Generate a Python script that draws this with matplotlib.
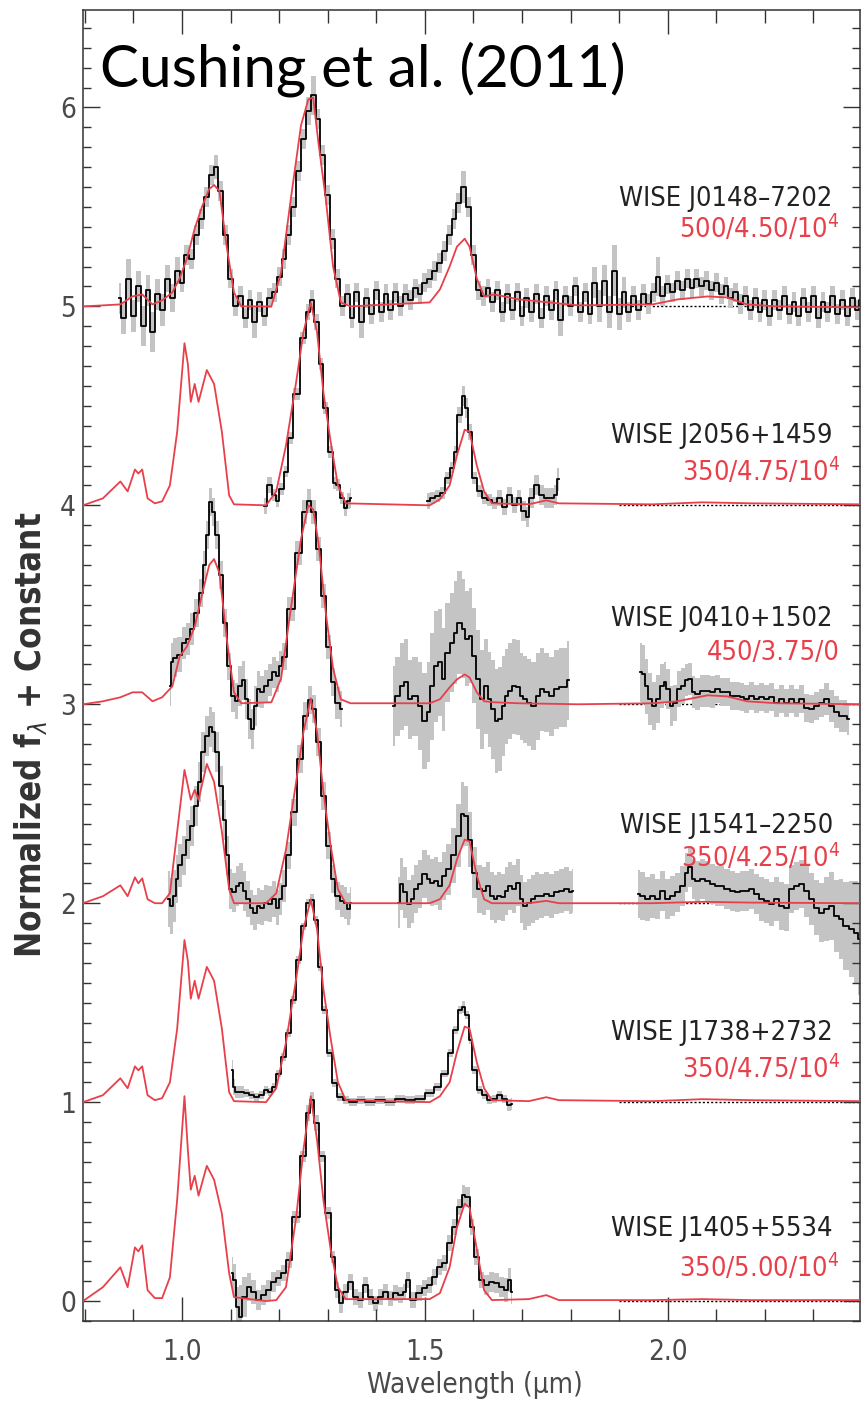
"""
Cushing et al. (2011) -- Y dwarf spectra with best-fit model spectra.
Each object is offset by an integer constant; black = data (grey = 1 sigma),
red = model (Teff / log g / Kzz).
"""
import numpy as np
import matplotlib.pyplot as plt
from matplotlib import font_manager as fm
from matplotlib.ticker import MultipleLocator, FormatStrFormatter


def pick_font():
    """Prefer a narrow Helvetica-like face, fall back to Arial metrics."""
    ttf = fm.fontManager.ttflist
    if any(f.name == "Liberation Sans Narrow" for f in ttf):
        return "Liberation Sans Narrow", "normal", 21
    if any(f.name == "DejaVu Sans" and f.stretch == "condensed" for f in ttf):
        return "DejaVu Sans", "condensed", 19
    return "Liberation Sans", "normal", 19


FONT, STRETCH, FS = pick_font()
plt.rcParams["font.family"] = [FONT, "DejaVu Sans"]
plt.rcParams["font.stretch"] = STRETCH
plt.rcParams["mathtext.fontset"] = "custom"
plt.rcParams["mathtext.rm"] = FONT
plt.rcParams["mathtext.it"] = FONT + ":italic"
plt.rcParams["mathtext.bf"] = FONT + ":bold"

RED = "#e8404a"
GREY = "#c4c4c4"

# ---------------------------------------------------------------- models
# 350 K models share a wavelength grid
wave_350 = [0.796, 0.837, 0.873, 0.888, 0.903, 0.910, 0.918, 0.929, 0.944, 0.959,
            0.975, 0.990, 1.005, 1.012, 1.018, 1.026, 1.034, 1.051, 1.066, 1.082,
            1.097, 1.107, 1.173, 1.194, 1.214, 1.235, 1.250, 1.265, 1.278, 1.291,
            1.306, 1.321, 1.337, 1.510, 1.531, 1.551, 1.566, 1.582, 1.592, 1.607,
            1.622, 1.638, 1.714, 1.750, 1.776, 1.969, 2.071, 2.173, 2.396]
model_350_475 = [0.0, 0.035, 0.12, 0.07, 0.18, 0.16, 0.18, 0.035, 0.01, 0.02,
                 0.10, 0.37, 0.815, 0.71, 0.52, 0.61, 0.52, 0.68, 0.61, 0.37,
                 0.05, 0.005, 0.0, 0.07, 0.30, 0.62, 0.87, 1.02, 0.87, 0.57,
                 0.32, 0.10, 0.01, 0.0, 0.03, 0.10, 0.25, 0.38, 0.37, 0.20,
                 0.07, 0.01, 0.005, 0.025, 0.01, 0.005, 0.015, 0.01, 0.005]
model_350_425 = [0.0, 0.035, 0.09, 0.035, 0.13, 0.10, 0.125, 0.02, 0.0, 0.0,
                 0.05, 0.36, 0.67, 0.59, 0.52, 0.57, 0.52, 0.70, 0.61, 0.36,
                 0.07, 0.0, 0.0, 0.05, 0.27, 0.61, 0.86, 1.03, 0.86, 0.56,
                 0.29, 0.07, 0.0, 0.0, 0.02, 0.09, 0.22, 0.32, 0.31, 0.14,
                 0.02, 0.0, 0.0, 0.012, 0.0, 0.0, 0.007, 0.003, 0.0]
model_350_500 = [0.0, 0.07, 0.17, 0.07, 0.27, 0.25, 0.28, 0.055, 0.015, 0.015,
                 0.12, 0.51, 1.03, 0.76, 0.56, 0.63, 0.53, 0.68, 0.61, 0.44,
                 0.14, 0.02, 0.0, 0.005, 0.07, 0.42, 0.76, 1.03, 0.81, 0.51,
                 0.26, 0.07, 0.01, 0.01, 0.04, 0.17, 0.37, 0.49, 0.47, 0.26,
                 0.055, 0.005, 0.01, 0.03, 0.005, 0.005, 0.01, 0.005, 0.005]

# warmer (450 / 500 K) models
wave_warm = [0.796, 0.837, 0.873, 0.898, 0.918, 0.939, 0.959, 0.980, 0.995, 1.010,
             1.026, 1.041, 1.056, 1.066, 1.077, 1.092, 1.107, 1.122, 1.184, 1.204,
             1.224, 1.245, 1.260, 1.270, 1.281, 1.296, 1.311, 1.327, 1.347, 1.510,
             1.531, 1.551, 1.566, 1.582, 1.592, 1.607, 1.622, 1.643, 1.694, 1.816,
             1.969, 2.020, 2.082, 2.122, 2.163, 2.224, 2.396]
model_500_450 = [0.0, 0.005, 0.01, 0.05, 0.06, 0.01, 0.03, 0.07, 0.14, 0.24,
                 0.39, 0.50, 0.59, 0.61, 0.58, 0.30, 0.07, 0.0, 0.0, 0.17,
                 0.54, 0.91, 1.04, 1.05, 0.82, 0.54, 0.20, 0.02, 0.0, 0.02,
                 0.085, 0.20, 0.30, 0.34, 0.30, 0.14, 0.05, 0.06, 0.035, 0.005,
                 0.01, 0.035, 0.05, 0.045, 0.01, 0.0, -0.005]
model_450_375 = [0.0, 0.015, 0.035, 0.06, 0.06, 0.015, 0.035, 0.09, 0.24, 0.29,
                 0.39, 0.55, 0.70, 0.73, 0.66, 0.33, 0.06, 0.005, 0.01, 0.13,
                 0.48, 0.83, 1.0, 0.98, 0.81, 0.46, 0.18, 0.025, 0.005, 0.005,
                 0.025, 0.085, 0.125, 0.15, 0.135, 0.06, 0.015, 0.01, 0.005, 0.0,
                 0.005, 0.015, 0.045, 0.04, 0.015, 0.005, 0.0]

# ---------------------------------------------------------------- data
# WISE J0148-7202 (offset 5)
j0148_wave = [[0.87, 0.88, 0.89, 0.90, 0.91, 0.92, 0.93, 0.94, 0.95, 0.96,
               0.97, 0.98, 0.99, 1.00, 1.01, 1.02, 1.03, 1.04, 1.05, 1.06,
               1.07, 1.08, 1.09, 1.10, 1.11, 1.12, 1.13, 1.14, 1.15, 1.16,
               1.17, 1.18, 1.19, 1.20, 1.21, 1.22, 1.23, 1.24, 1.25, 1.26,
               1.27, 1.28, 1.29, 1.30, 1.31, 1.32, 1.33, 1.34, 1.35, 1.36,
               1.37, 1.38, 1.39, 1.40, 1.41, 1.42, 1.43, 1.44, 1.45, 1.46,
               1.47, 1.48, 1.49, 1.50, 1.51, 1.52, 1.53, 1.54, 1.55, 1.56,
               1.57, 1.58, 1.59, 1.60, 1.61, 1.62, 1.63, 1.64, 1.65, 1.66,
               1.67, 1.68, 1.69, 1.70, 1.71, 1.72, 1.73, 1.74, 1.75, 1.76,
               1.77, 1.78, 1.79, 1.80, 1.81, 1.82, 1.83, 1.84, 1.85, 1.86,
               1.87, 1.88, 1.89, 1.90, 1.91, 1.92, 1.93, 1.94, 1.95, 1.96,
               1.97, 1.98, 1.99, 2.00, 2.01, 2.02, 2.03, 2.04, 2.05, 2.06,
               2.07, 2.08, 2.09, 2.10, 2.11, 2.12, 2.13, 2.14, 2.15, 2.16,
               2.17, 2.18, 2.19, 2.20, 2.21, 2.22, 2.23, 2.24, 2.25, 2.26,
               2.27, 2.28, 2.29, 2.30, 2.31, 2.32, 2.33, 2.34, 2.35, 2.36,
               2.37, 2.38, 2.39, 2.40]]
j0148_flux = [[0.04, -0.06, 0.14, -0.05, 0.10, -0.10, 0.08, -0.13, 0.06, -0.02,
               0.14, 0.04, 0.18, 0.12, 0.26, 0.24, 0.36, 0.44, 0.55, 0.66,
               0.70, 0.58, 0.36, 0.14, 0.00, 0.05, -0.06, 0.03, -0.08, 0.02,
               -0.05, 0.04, 0.07, 0.15, 0.24, 0.36, 0.50, 0.68, 0.84, 0.98,
               1.06, 0.94, 0.76, 0.56, 0.34, 0.14, 0.00, 0.06, -0.06, 0.07,
               -0.08, 0.04, -0.04, 0.08, -0.03, 0.06, -0.02, 0.07, 0.00, 0.06,
               0.03, 0.09, 0.06, 0.12, 0.14, 0.18, 0.22, 0.28, 0.36, 0.44,
               0.52, 0.60, 0.50, 0.26, 0.08, 0.05, 0.09, 0.02, 0.08, -0.03,
               0.06, -0.02, 0.07, -0.05, 0.04, -0.03, 0.06, -0.06, 0.05, -0.02,
               0.08, -0.07, 0.05, 0.00, 0.10, -0.03, 0.07, -0.04, 0.12, 0.00,
               0.13, -0.03, 0.18, -0.04, 0.07, -0.03, 0.05, -0.02, 0.06, 0.01,
               0.07, 0.15, 0.05, 0.11, 0.07, 0.13, 0.08, 0.14, 0.09, 0.14,
               0.10, 0.13, 0.08, 0.12, 0.06, 0.10, 0.04, 0.07, 0.01, 0.05,
               -0.02, 0.04, -0.03, 0.03, -0.05, 0.03, -0.02, 0.05, -0.04, 0.02,
               -0.05, 0.04, -0.03, 0.05, -0.06, 0.02, -0.03, 0.05, -0.04, 0.03,
               -0.05, 0.04, -0.02, 0.03]]
j0148_err = [[0.08, 0.08, 0.10, 0.08, 0.08, 0.10, 0.08, 0.10, 0.08, 0.08,
              0.07, 0.07, 0.07, 0.05, 0.05, 0.05, 0.05, 0.05, 0.05, 0.05,
              0.06, 0.05, 0.05, 0.05, 0.05, 0.05, 0.05, 0.05, 0.08, 0.05,
              0.05, 0.05, 0.05, 0.05, 0.05, 0.05, 0.05, 0.05, 0.05, 0.07,
              0.10, 0.05, 0.05, 0.05, 0.05, 0.05, 0.05, 0.05, 0.05, 0.05,
              0.08, 0.05, 0.05, 0.05, 0.05, 0.05, 0.05, 0.05, 0.05, 0.05,
              0.05, 0.05, 0.05, 0.05, 0.05, 0.05, 0.05, 0.05, 0.05, 0.05,
              0.05, 0.08, 0.05, 0.05, 0.05, 0.05, 0.05, 0.05, 0.05, 0.05,
              0.05, 0.05, 0.05, 0.05, 0.05, 0.05, 0.05, 0.05, 0.05, 0.05,
              0.05, 0.08, 0.05, 0.05, 0.05, 0.05, 0.05, 0.05, 0.08, 0.08,
              0.08, 0.08, 0.13, 0.08, 0.08, 0.05, 0.05, 0.05, 0.05, 0.05,
              0.05, 0.10, 0.05, 0.05, 0.05, 0.05, 0.05, 0.05, 0.05, 0.05,
              0.05, 0.05, 0.05, 0.05, 0.05, 0.05, 0.05, 0.05, 0.05, 0.05,
              0.05, 0.05, 0.05, 0.05, 0.05, 0.05, 0.05, 0.05, 0.05, 0.05,
              0.05, 0.05, 0.05, 0.05, 0.05, 0.05, 0.05, 0.05, 0.05, 0.05,
              0.05, 0.05, 0.05, 0.05]]

# WISE J2056+1459 (offset 4)
j2056_wave = [[1.168, 1.182, 1.189, 1.196, 1.204, 1.214, 1.224, 1.235, 1.250, 1.260,
               1.267, 1.276, 1.286, 1.296, 1.306, 1.314, 1.321, 1.329, 1.337, 1.344,
               1.347],
              [1.505, 1.515, 1.526, 1.536, 1.546, 1.556, 1.563, 1.571, 1.580, 1.587,
               1.592, 1.602, 1.612, 1.622, 1.633, 1.643, 1.653, 1.663, 1.674, 1.684,
               1.694, 1.704, 1.711, 1.719, 1.730, 1.740, 1.750, 1.760, 1.770, 1.776]]
j2056_flux = [[-0.005, 0.10, 0.05, 0.02, 0.08, 0.17, 0.34, 0.56, 0.84, 0.97,
               1.03, 0.92, 0.71, 0.49, 0.27, 0.11, 0.10, 0.035, -0.015, 0.02,
               0.035],
              [0.02, 0.035, 0.045, 0.06, 0.135, 0.19, 0.27, 0.455, 0.55, 0.49,
               0.37, 0.135, 0.07, 0.035, 0.027, 0.01, 0.035, -0.007, 0.05, 0.002,
               0.035, -0.03, -0.057, 0.035, 0.10, 0.05, 0.035, 0.035, 0.05, 0.13]]
j2056_err = [[0.04, 0.04, 0.03, 0.03, 0.03, 0.03, 0.03, 0.03, 0.03, 0.04,
              0.05, 0.04, 0.03, 0.03, 0.03, 0.03, 0.03, 0.03, 0.04, 0.04,
              0.05],
             [0.04, 0.03, 0.03, 0.03, 0.03, 0.03, 0.03, 0.04, 0.05, 0.05,
              0.04, 0.03, 0.03, 0.03, 0.03, 0.03, 0.04, 0.04, 0.04, 0.04,
              0.04, 0.05, 0.05, 0.05, 0.05, 0.05, 0.05, 0.05, 0.05, 0.06]]

# WISE J0410+1502 (offset 3)
j0410_wave = [[0.975, 0.978, 0.985, 0.995, 1.005, 1.012, 1.020, 1.029, 1.039, 1.046,
               1.053, 1.059, 1.065, 1.071, 1.080, 1.089, 1.097, 1.105, 1.112, 1.120,
               1.128, 1.133, 1.140, 1.145, 1.151, 1.158, 1.165, 1.173, 1.182, 1.189,
               1.196, 1.202, 1.209, 1.224, 1.240, 1.253, 1.260, 1.270, 1.281, 1.291,
               1.301, 1.311, 1.321, 1.329],
              [1.434, 1.444, 1.454, 1.461, 1.469, 1.480, 1.490, 1.500, 1.507, 1.515,
               1.523, 1.531, 1.538, 1.546, 1.556, 1.563, 1.571, 1.580, 1.587, 1.594,
               1.602, 1.609, 1.617, 1.625, 1.633, 1.641, 1.648, 1.655, 1.661, 1.668,
               1.676, 1.684, 1.691, 1.699, 1.707, 1.714, 1.725, 1.733, 1.740, 1.750,
               1.760, 1.770, 1.781, 1.791, 1.796],
              [1.944, 1.949, 1.957, 1.964, 1.971, 1.980, 1.988, 1.995, 2.000, 2.008,
               2.015, 2.024, 2.031, 2.039, 2.046, 2.053, 2.061, 2.071, 2.082, 2.092,
               2.102, 2.112, 2.122, 2.133, 2.143, 2.153, 2.163, 2.173, 2.184, 2.194,
               2.204, 2.214, 2.224, 2.235, 2.245, 2.255, 2.265, 2.276, 2.286, 2.296,
               2.306, 2.316, 2.327, 2.337, 2.347, 2.357, 2.367, 2.373]]
j0410_flux = [[0.09, 0.21, 0.235, 0.25, 0.31, 0.33, 0.38, 0.46, 0.56, 0.70,
               0.85, 1.015, 0.965, 0.85, 0.65, 0.41, 0.19, 0.04, 0.017, 0.09,
               0.12, 0.025, -0.075, -0.125, -0.01, 0.075, 0.06, 0.09, 0.12, 0.16,
               0.14, 0.19, 0.24, 0.48, 0.76, 0.965, 1.02, 0.965, 0.78, 0.545,
               0.29, 0.11, 0.008, -0.025],
              [-0.008, 0.04, 0.09, 0.11, 0.025, 0.04, -0.008, -0.085, -0.04, 0.09,
               0.19, 0.21, 0.125, 0.26, 0.31, 0.36, 0.41, 0.38, 0.33, 0.345,
               0.245, 0.125, 0.025, 0.09, 0.025, -0.025, -0.085, -0.075, -0.008, 0.04,
               0.067, 0.09, 0.085, 0.04, 0.025, 0.008, -0.008, 0.04, 0.075, 0.06,
               0.04, 0.075, 0.085, 0.085, 0.12],
              [0.16, 0.15, 0.09, 0.025, -0.008, 0.025, 0.09, 0.11, 0.075, -0.008,
               0.008, 0.075, 0.09, 0.12, 0.125, 0.06, 0.05, 0.067, 0.067, 0.06,
               0.075, 0.06, 0.06, 0.04, 0.04, 0.035, 0.025, 0.04, 0.025, 0.035,
               0.025, 0.035, 0.008, 0.025, 0.008, 0.025, 0.008, 0.025, -0.017, -0.025,
               -0.008, 0.008, 0.025, -0.008, -0.04, -0.06, -0.06, -0.075]]
j0410_err = [[0.10, 0.10, 0.10, 0.09, 0.08, 0.08, 0.08, 0.07, 0.07, 0.07,
              0.07, 0.07, 0.07, 0.07, 0.07, 0.07, 0.07, 0.08, 0.09, 0.10,
              0.10, 0.10, 0.10, 0.10, 0.10, 0.09, 0.08, 0.08, 0.08, 0.08,
              0.08, 0.08, 0.07, 0.06, 0.06, 0.06, 0.06, 0.06, 0.06, 0.06,
              0.06, 0.07, 0.08, 0.09],
             [0.20, 0.20, 0.22, 0.22, 0.20, 0.20, 0.22, 0.24, 0.25, 0.27,
              0.28, 0.27, 0.26, 0.25, 0.25, 0.26, 0.26, 0.25, 0.24, 0.24,
              0.24, 0.25, 0.25, 0.24, 0.24, 0.25, 0.26, 0.26, 0.25, 0.24,
              0.24, 0.24, 0.24, 0.22, 0.22, 0.22, 0.22, 0.22, 0.21, 0.20,
              0.20, 0.20, 0.20, 0.20, 0.20],
             [0.15, 0.15, 0.14, 0.13, 0.12, 0.12, 0.11, 0.10, 0.10, 0.10,
              0.09, 0.09, 0.09, 0.08, 0.08, 0.08, 0.08, 0.08, 0.08, 0.08,
              0.07, 0.07, 0.07, 0.07, 0.07, 0.07, 0.07, 0.07, 0.07, 0.07,
              0.07, 0.07, 0.07, 0.07, 0.07, 0.07, 0.07, 0.07, 0.07, 0.07,
              0.07, 0.07, 0.08, 0.08, 0.08, 0.08, 0.08, 0.08]]

# WISE J1541-2250 (offset 2)
j1541_wave = [[0.972, 0.978, 0.985, 0.990, 0.995, 1.005, 1.012, 1.020, 1.029, 1.036,
               1.044, 1.051, 1.058, 1.064, 1.071, 1.080, 1.087, 1.094, 1.100, 1.107,
               1.114, 1.122, 1.128, 1.136, 1.143, 1.151, 1.158, 1.165, 1.173, 1.182,
               1.189, 1.196, 1.202, 1.209, 1.219, 1.230, 1.243, 1.255, 1.263, 1.271,
               1.281, 1.291, 1.301, 1.311, 1.321, 1.329, 1.337, 1.344, 1.347],
              [1.445, 1.451, 1.459, 1.467, 1.475, 1.482, 1.490, 1.500, 1.508, 1.515,
               1.523, 1.531, 1.539, 1.549, 1.559, 1.570, 1.577, 1.584, 1.592, 1.602,
               1.612, 1.622, 1.631, 1.638, 1.645, 1.653, 1.661, 1.668, 1.676, 1.684,
               1.691, 1.699, 1.707, 1.714, 1.722, 1.730, 1.740, 1.750, 1.760, 1.770,
               1.781, 1.791, 1.801, 1.806],
              [1.939, 1.949, 1.959, 1.969, 1.980, 1.990, 2.000, 2.010, 2.020, 2.031,
               2.039, 2.046, 2.053, 2.061, 2.071, 2.082, 2.092, 2.102, 2.112, 2.122,
               2.133, 2.143, 2.153, 2.163, 2.173, 2.184, 2.194, 2.204, 2.214, 2.224,
               2.235, 2.245, 2.255, 2.265, 2.276, 2.286, 2.296, 2.306, 2.316, 2.327,
               2.337, 2.347, 2.357, 2.367, 2.378, 2.388, 2.396]]
j1541_flux = [[0.02, -0.013, 0.037, 0.12, 0.19, 0.24, 0.32, 0.39, 0.49, 0.61,
               0.76, 0.84, 0.885, 0.86, 0.76, 0.59, 0.42, 0.24, 0.07, 0.054,
               0.087, 0.10, 0.062, 0.02, -0.022, -0.047, -0.013, -0.022, 0.003, -0.005,
               0.02, -0.022, 0.02, 0.087, 0.24, 0.456, 0.725, 0.94, 1.02, 0.976,
               0.81, 0.54, 0.29, 0.12, 0.037, 0.012, 0.003, -0.03, 0.003],
              [0.003, 0.096, 0.054, -0.005, 0.02, 0.07, 0.096, 0.146, 0.12, 0.104,
               0.112, 0.087, 0.138, 0.17, 0.24, 0.34, 0.45, 0.44, 0.32, 0.154,
               0.07, 0.062, 0.087, 0.037, 0.02, 0.037, 0.029, 0.062, 0.087, 0.07,
               0.104, 0.02, -0.013, 0.003, 0.02, 0.037, 0.037, 0.045, 0.037, 0.054,
               0.062, 0.07, 0.054, 0.062],
              [0.045, 0.037, 0.02, 0.037, 0.02, 0.062, 0.02, 0.037, 0.054, 0.087,
               0.154, 0.18, 0.12, 0.112, 0.12, 0.112, 0.096, 0.087, 0.087, 0.07,
               0.062, 0.054, 0.062, 0.062, 0.07, 0.045, 0.02, 0.012, -0.005, 0.02,
               -0.013, -0.022, 0.07, 0.087, 0.096, 0.062, 0.02, -0.022, -0.047, -0.03,
               -0.013, -0.064, -0.08, -0.114, -0.13, -0.148, -0.18]]
j1541_err = [[0.14, 0.14, 0.13, 0.12, 0.11, 0.10, 0.10, 0.10, 0.10, 0.10,
              0.10, 0.10, 0.10, 0.10, 0.10, 0.10, 0.10, 0.10, 0.10, 0.10,
              0.10, 0.10, 0.10, 0.09, 0.09, 0.09, 0.09, 0.09, 0.09, 0.09,
              0.09, 0.09, 0.08, 0.08, 0.07, 0.07, 0.07, 0.07, 0.07, 0.07,
              0.07, 0.07, 0.07, 0.07, 0.07, 0.08, 0.08, 0.08, 0.08],
             [0.13, 0.13, 0.13, 0.12, 0.12, 0.12, 0.12, 0.12, 0.12, 0.12,
              0.12, 0.12, 0.12, 0.13, 0.14, 0.16, 0.16, 0.15, 0.14, 0.13,
              0.12, 0.12, 0.12, 0.12, 0.12, 0.12, 0.12, 0.12, 0.12, 0.12,
              0.12, 0.12, 0.12, 0.12, 0.12, 0.12, 0.11, 0.11, 0.11, 0.11,
              0.11, 0.11, 0.11, 0.11],
             [0.12, 0.12, 0.11, 0.11, 0.10, 0.10, 0.10, 0.10, 0.10, 0.10,
              0.10, 0.10, 0.10, 0.10, 0.10, 0.10, 0.10, 0.10, 0.10, 0.10,
              0.10, 0.10, 0.10, 0.10, 0.10, 0.10, 0.11, 0.11, 0.11, 0.11,
              0.12, 0.12, 0.12, 0.12, 0.12, 0.13, 0.13, 0.14, 0.15, 0.16,
              0.17, 0.18, 0.20, 0.22, 0.24, 0.26, 0.28]]

# WISE J1738+2732 (offset 1)
j1738_wave = [[1.102, 1.107, 1.112, 1.122, 1.133, 1.143, 1.153, 1.163, 1.173, 1.182,
               1.189, 1.199, 1.209, 1.219, 1.230, 1.240, 1.250, 1.260, 1.267, 1.276,
               1.284, 1.294, 1.304, 1.314, 1.324, 1.337, 1.352, 1.367, 1.388, 1.408,
               1.429, 1.449, 1.469, 1.490, 1.510, 1.526, 1.541, 1.553, 1.563, 1.574,
               1.580, 1.587, 1.594, 1.602, 1.612, 1.622, 1.633, 1.643, 1.653, 1.663,
               1.674, 1.679]]
j1738_flux = [[0.16, 0.077, 0.052, 0.052, 0.044, 0.035, 0.027, 0.035, 0.06, 0.052,
               0.077, 0.144, 0.228, 0.346, 0.513, 0.715, 0.883, 1.0, 1.017, 0.916,
               0.681, 0.463, 0.245, 0.094, 0.027, 0.01, 0.002, 0.01, 0.002, 0.01,
               0.002, 0.018, 0.01, 0.018, 0.044, 0.077, 0.144, 0.245, 0.362, 0.463,
               0.48, 0.438, 0.312, 0.161, 0.06, 0.035, 0.01, 0.018, 0.035, 0.018,
               -0.015, -0.007]]
j1738_err = [[0.05, 0.04, 0.03, 0.03, 0.02, 0.02, 0.02, 0.02, 0.02, 0.02,
              0.02, 0.02, 0.02, 0.02, 0.02, 0.02, 0.02, 0.02, 0.03, 0.02,
              0.02, 0.02, 0.02, 0.02, 0.02, 0.02, 0.02, 0.02, 0.02, 0.02,
              0.02, 0.02, 0.02, 0.02, 0.02, 0.02, 0.02, 0.02, 0.02, 0.02,
              0.03, 0.02, 0.02, 0.02, 0.02, 0.02, 0.02, 0.02, 0.02, 0.02,
              0.03, 0.03]]

# WISE J1405+5534 (offset 0)
j1405_wave = [[1.102, 1.107, 1.114, 1.120, 1.128, 1.138, 1.148, 1.158, 1.168, 1.178,
               1.189, 1.199, 1.209, 1.219, 1.235, 1.250, 1.260, 1.267, 1.276, 1.286,
               1.301, 1.311, 1.321, 1.327, 1.337, 1.347, 1.357, 1.367, 1.378, 1.388,
               1.398, 1.408, 1.418, 1.429, 1.439, 1.449, 1.459, 1.464, 1.475, 1.490,
               1.500, 1.510, 1.520, 1.531, 1.541, 1.551, 1.561, 1.571, 1.580, 1.587,
               1.597, 1.607, 1.617, 1.628, 1.638, 1.648, 1.658, 1.668, 1.674, 1.679]]
j1405_flux = [[0.14, 0.106, -0.03, -0.08, 0.022, 0.072, 0.047, 0.005, 0.03, 0.055,
               0.097, 0.114, 0.139, 0.206, 0.424, 0.727, 0.945, 1.012, 0.894, 0.727,
               0.441, 0.223, 0.055, -0.012, 0.047, 0.097, 0.022, 0.005, 0.08, 0.022,
               -0.012, 0.022, 0.047, 0.013, 0.039, 0.03, 0.047, 0.106, 0.005, 0.039,
               0.064, 0.08, 0.122, 0.173, 0.19, 0.29, 0.374, 0.475, 0.534, 0.525,
               0.374, 0.223, 0.106, 0.08, 0.097, 0.089, 0.072, 0.055, 0.106, 0.047]]
j1405_err = [[0.08, 0.08, 0.10, 0.16, 0.10, 0.07, 0.06, 0.05, 0.05, 0.05,
              0.05, 0.04, 0.04, 0.04, 0.03, 0.03, 0.04, 0.04, 0.04, 0.03,
              0.03, 0.03, 0.04, 0.05, 0.04, 0.04, 0.04, 0.04, 0.04, 0.04,
              0.04, 0.04, 0.04, 0.04, 0.04, 0.04, 0.04, 0.04, 0.04, 0.04,
              0.04, 0.04, 0.04, 0.04, 0.04, 0.04, 0.04, 0.04, 0.05, 0.05,
              0.04, 0.04, 0.04, 0.05, 0.05, 0.05, 0.05, 0.06, 0.06, 0.06]]

names = ["WISE J0148\u20137202", "WISE J2056+1459", "WISE J0410+1502",
         "WISE J1541\u20132250", "WISE J1738+2732", "WISE J1405+5534"]
params = [r"500/4.50/10$^4$", r"350/4.75/10$^4$", r"450/3.75/0",
          r"350/4.25/10$^4$", r"350/4.75/10$^4$", r"350/5.00/10$^4$"]
offsets = [5, 4, 3, 2, 1, 0]
name_dy = [0.54, 0.35, 0.43, 0.39, 0.35, 0.36]
param_dy = [0.39, 0.17, 0.26, 0.23, 0.17, 0.17]


def main():
    fig = plt.figure(figsize=(8.67, 14.01), dpi=100)
    ax = fig.add_axes([0.0957, 0.0571, 0.8962, 0.9358])

    models = [(wave_warm, model_500_450), (wave_350, model_350_475),
              (wave_warm, model_450_375), (wave_350, model_350_425),
              (wave_350, model_350_475), (wave_350, model_350_500)]
    data = [(j0148_wave, j0148_flux, j0148_err), (j2056_wave, j2056_flux, j2056_err),
            (j0410_wave, j0410_flux, j0410_err), (j1541_wave, j1541_flux, j1541_err),
            (j1738_wave, j1738_flux, j1738_err), (j1405_wave, j1405_flux, j1405_err)]

    for i, off in enumerate(offsets):
        # zero level
        ax.plot([1.9, 2.4], [off, off], color="black", linestyle=(0, (1.5, 1.5)),
                linewidth=1.0, zorder=1)

        waves, fluxes, errs = data[i]
        for w, f, e in zip(waves, fluxes, errs):
            w = np.asarray(w)
            f = np.asarray(f) + off
            e = np.asarray(e)
            ax.fill_between(w, f - e, f + e, step="mid", color=GREY,
                            linewidth=0, zorder=1.5)
            ax.step(w, f, where="mid", color="black", linewidth=1.3, zorder=2)

        mw, mf = models[i]
        ax.plot(mw, np.asarray(mf) + off, color=RED, linewidth=1.3, zorder=3)

        ax.text(2.34, off + name_dy[i], names[i], ha="right", va="center",
                fontsize=FS + 0.5, color="#222222", zorder=5)
        ax.text(2.355, off + param_dy[i], params[i], ha="right", va="center",
                fontsize=FS + 0.5, color=RED, zorder=5)

    ax.set_xlim(0.796, 2.396)
    ax.set_ylim(-0.1, 6.49)

    ax.xaxis.set_major_locator(MultipleLocator(0.5))
    ax.xaxis.set_minor_locator(MultipleLocator(0.1))
    ax.xaxis.set_major_formatter(FormatStrFormatter("%.1f"))
    ax.yaxis.set_major_locator(MultipleLocator(1))
    ax.yaxis.set_minor_locator(MultipleLocator(0.1))

    ax.tick_params(which="both", direction="in", top=True, right=True,
                   colors="#333333", labelcolor="#4a4a4a", labelsize=FS + 1, width=1.0)
    ax.tick_params(axis="x", which="major", length=17, pad=12)
    ax.tick_params(axis="x", which="minor", length=9)
    ax.tick_params(axis="y", which="major", length=12, pad=5)
    ax.tick_params(axis="y", which="minor", length=6)
    for sp in ax.spines.values():
        sp.set_linewidth(1.1)
        sp.set_color("#333333")

    fig.text(0.548, 0.0114, "Wavelength (\u00b5m)", ha="center", va="center",
             fontsize=FS + 1, color="#4a4a4a")
    fig.text(0.035, 0.4754, r"Normalized f$_\lambda$ + Constant", rotation=90,
             ha="center", va="center", fontsize=FS + 6, fontweight="bold",
             color="#333333")

    fig.text(0.115, 0.938, "Cushing et al. (2011)", ha="left", va="baseline",
             fontsize=42, family=["Lato", "DejaVu Sans"], stretch="normal",
             color="black")

    fig.savefig("out.png", dpi=100)


if __name__ == "__main__":
    main()
